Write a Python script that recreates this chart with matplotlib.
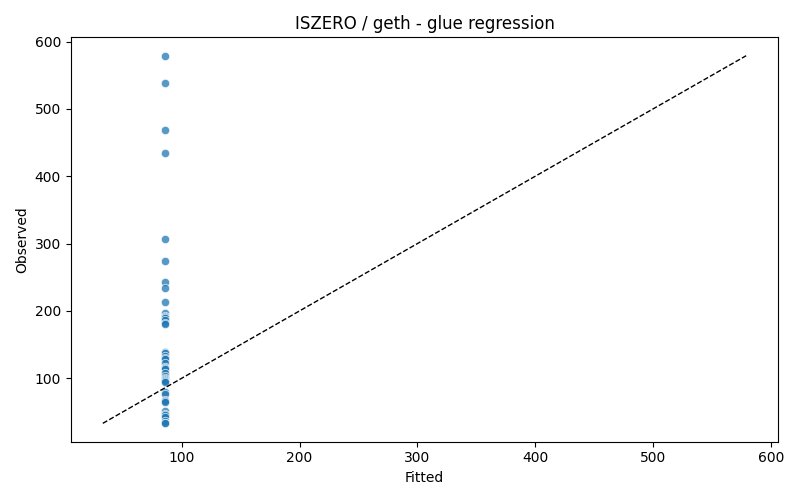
import numpy as np
import matplotlib
matplotlib.use("Agg")
from matplotlib import pyplot as plt

observed = [579, 539, 469, 435, 307, 274, 243, 234, 213, 197, 193, 191, 190, 186, 182, 181,
            139, 137, 133, 130, 128, 122, 117, 115, 113, 108, 104, 101, 99, 97, 96, 95,
            80, 76, 68, 66, 65, 52, 47, 45, 42, 36, 34, 33]
fitted = [85.6] * len(observed)

title = "ISZERO / geth - glue regression"

fig, ax = plt.subplots(figsize=(8, 5), dpi=100)

ax.scatter(fitted, observed, s=36, color="tab:blue", alpha=0.75,
           edgecolor="white", linewidth=0.6, zorder=2)

lo = min(min(fitted), min(observed))
hi = max(max(fitted), max(observed))
ax.plot([lo, hi], [lo, hi], "k--", linewidth=1, zorder=3)

ax.set_xlabel("Fitted")
ax.set_ylabel("Observed")
ax.set_title(title)

fig.tight_layout()
fig.savefig("out.png")
